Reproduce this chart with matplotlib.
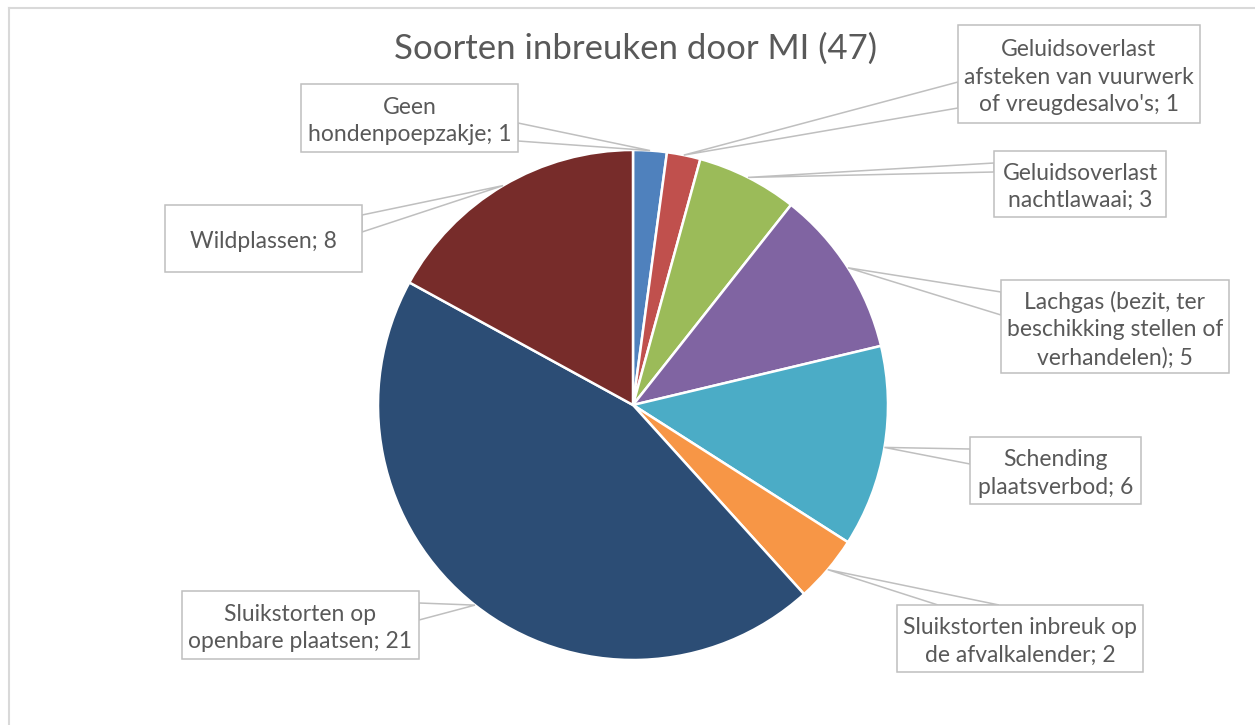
import matplotlib
matplotlib.use("Agg")
import matplotlib.pyplot as plt
from matplotlib.patches import Rectangle, Polygon
import numpy as np

# Data
categories = [
    "Geen\nhondenpoepzakje",
    "Geluidsoverlast\nafsteken van vuurwerk\nof vreugdesalvo's",
    "Geluidsoverlast\nnachtlawaai",
    "Lachgas (bezit, ter\nbeschikking stellen of\nverhandelen)",
    "Schending\nplaatsverbod",
    "Sluikstorten inbreuk op\nde afvalkalender",
    "Sluikstorten op\nopenbare plaatsen",
    "Wildplassen",
]
values = [1, 1, 3, 5, 6, 2, 21, 8]
title = "Soorten inbreuken door MI (47)"

colors = ["#4F81BD", "#C0504D", "#9BBB59", "#8064A2",
          "#4BACC6", "#F79646", "#2C4D75", "#772C2A"]

W, H = 1255, 725
CX, CY, R = 633, 405, 255

# label boxes in pixel coords: (x0, y0, x1, y1), pointer base points on the box edge
boxes = [
    ((301, 84, 518, 152), ((518, 123), (518, 141))),
    ((958, 25, 1200, 123), ((958, 82), (958, 108))),
    ((994, 151, 1166, 217), ((994, 163), (994, 172))),
    ((1001, 280, 1229, 373), ((1001, 292), (1001, 315))),
    ((970, 437, 1141, 504), ((970, 449), (970, 464))),
    ((897, 605, 1143, 672), ((938, 605), (999, 605))),
    ((182, 591, 419, 659), ((419, 603), (419, 620))),
    ((165, 205, 362, 272), ((362, 215), (362, 232))),
]

TEXT = "#595959"
EDGE = "#BFBFBF"
FONT = ["Lato", "DejaVu Sans"]


def fy(y):
    return H - y


fig = plt.figure(figsize=(W / 100, H / 100), dpi=100)
ax = fig.add_axes([0, 0, 1, 1])

ax.pie(values, colors=colors, startangle=90, counterclock=False,
       center=(CX, fy(CY)), radius=R,
       wedgeprops=dict(edgecolor="white", linewidth=1.8))

total = sum(values)
cum = np.cumsum([0] + values[:-1])
for i, (cat, val) in enumerate(zip(categories, values)):
    mid = (cum[i] + val / 2) / total
    ang = np.deg2rad(90 - 360 * mid)
    anchor = (CX + R * np.cos(ang), fy(CY) + R * np.sin(ang))

    (x0, y0, x1, y1), (b1, b2) = boxes[i]
    ax.add_patch(Polygon([(b1[0], fy(b1[1])), anchor, (b2[0], fy(b2[1]))],
                         closed=True, facecolor="white", edgecolor=EDGE,
                         linewidth=1.1, zorder=3))
    ax.add_patch(Rectangle((x0, fy(y1)), x1 - x0, y1 - y0, facecolor="white",
                           edgecolor=EDGE, linewidth=1.1, zorder=4))
    ax.text((x0 + x1) / 2, fy((y0 + y1) / 2 + 3), f"{cat}; {val}", ha="center",
            va="center", fontsize=16.5, color=TEXT, family=FONT,
            linespacing=1.38, zorder=5)

ax.text(636, fy(49), title, ha="center", va="center", fontsize=25,
        color=TEXT, family=FONT)

# chart area border (top and left visible)
ax.plot([9, W], [fy(8), fy(8)], color="#D9D9D9", linewidth=1.5, zorder=1)
ax.plot([9, 9], [fy(8), 0], color="#D9D9D9", linewidth=1.5, zorder=1)

ax.set_xlim(0, W)
ax.set_ylim(0, H)
ax.set_aspect("auto")
ax.axis("off")

fig.savefig("out.png", dpi=100)
